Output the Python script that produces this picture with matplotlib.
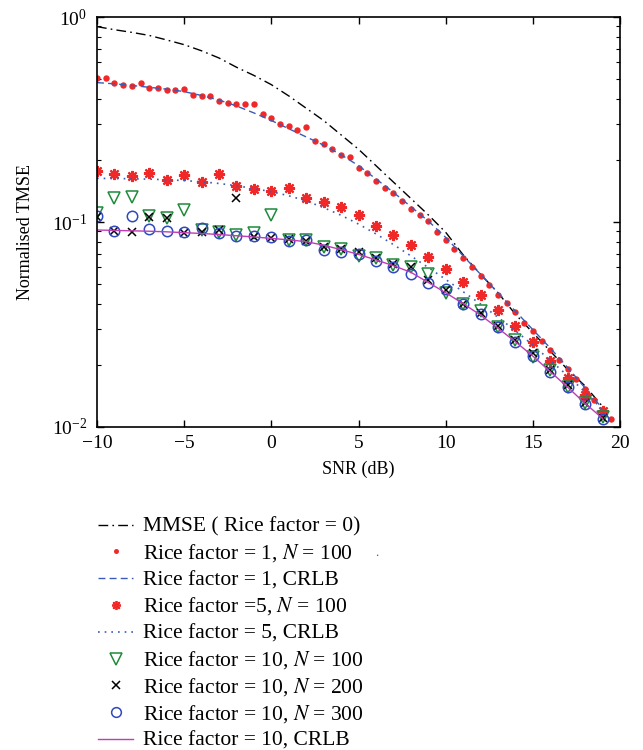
import numpy as np
import matplotlib
matplotlib.use("Agg")
import matplotlib.pyplot as plt
from matplotlib.lines import Line2D
from matplotlib.ticker import LogLocator, NullFormatter, FixedLocator

plt.rcParams['font.family'] = ['Liberation Serif', 'DejaVu Serif']
plt.rcParams['mathtext.fontset'] = 'stix'

# ---------------- data (log10 of normalised TMSE) ----------------
snr_line = [-10, -9, -8, -7, -6, -5, -4, -3, -2, -1, 0, 1, 2, 3, 4, 5, 6, 7, 8, 9,
            10, 11, 12, 13, 14, 15, 16, 17, 18, 19]
snr_int = snr_line
snr_half = [-10, -9.5, -9, -8.5, -8, -7.5, -7, -6.5, -6, -5.5, -5, -4.5, -4, -3.5, -3,
            -2.5, -2, -1.5, -1, -0.5, 0, 0.5, 1, 1.5, 2, 2.5, 3, 3.5, 4, 4.5, 5, 5.5,
            6, 6.5, 7, 7.5, 8, 8.5, 9, 9.5, 10, 10.5, 11, 11.5, 12, 12.5, 13, 13.5,
            14, 14.5, 15, 15.5, 16, 16.5, 17, 17.5, 18, 18.5, 19, 19.5]

mmse_log = [-0.047, -0.062, -0.075, -0.090, -0.112, -0.135, -0.165, -0.200, -0.245, -0.285,
            -0.330, -0.385, -0.445, -0.505, -0.575, -0.645, -0.725, -0.805, -0.885, -0.965,
            -1.050, -1.160, -1.255, -1.345, -1.450, -1.540, -1.630, -1.720, -1.800, -1.900]

rice1_n100_log = [-0.298, -0.298, -0.320, -0.333, -0.338, -0.320, -0.345, -0.345, -0.356, -0.356,
                  -0.350, -0.380, -0.387, -0.387, -0.408, -0.421, -0.426, -0.426, -0.426, -0.475,
                  -0.491, -0.520, -0.532, -0.550, -0.538, -0.603, -0.620, -0.644, -0.672, -0.684,
                  -0.738, -0.762, -0.800, -0.833, -0.860, -0.897, -0.938, -0.965, -0.995, -1.048,
                  -1.088, -1.132, -1.174, -1.221, -1.263, -1.307, -1.356, -1.393, -1.440, -1.494,
                  -1.530, -1.580, -1.624, -1.673, -1.717, -1.767, -1.816, -1.868, -1.917, -1.962]

rice1_crlb_log = [-0.320, -0.326, -0.334, -0.343, -0.352, -0.364, -0.383, -0.405, -0.434, -0.468,
                  -0.505, -0.545, -0.585, -0.625, -0.672, -0.725, -0.790, -0.855, -0.925, -0.995,
                  -1.075, -1.165, -1.255, -1.345, -1.435, -1.525, -1.615, -1.710, -1.810, -1.910]

rice5_n100_log = [-0.750, -0.766, -0.776, -0.763, -0.795, -0.772, -0.803, -0.766, -0.824, -0.839,
                  -0.847, -0.836, -0.881, -0.901, -0.928, -0.966, -1.020, -1.063, -1.114, -1.172,
                  -1.230, -1.294, -1.356, -1.429, -1.506, -1.587, -1.678, -1.762, -1.844, -1.922]

rice5_crlb_log = [-0.787, -0.788, -0.789, -0.791, -0.794, -0.798, -0.804, -0.812, -0.823, -0.837,
                  -0.852, -0.872, -0.897, -0.930, -0.967, -1.010, -1.058, -1.110, -1.165, -1.222,
                  -1.280, -1.340, -1.400, -1.465, -1.530, -1.600, -1.675, -1.750, -1.830, -1.915]

rice10_n100_log = [-0.958, -0.884, -0.877, -0.969, -0.982, -0.941, -1.039, -1.047, -1.063, -1.055,
                   -0.966, -1.088, -1.088, -1.124, -1.132, -1.166, -1.174, -1.210, -1.221, -1.252,
                   -1.345, -1.400, -1.433, -1.511, -1.576, -1.657, -1.722, -1.803, -1.881, -1.953]

rice10_n200_log = [-0.974, -1.044, -1.047, -0.974, -0.982, -1.055, -1.047, -1.039, -0.881, -1.075,
                   -1.080, -1.084, -1.091, -1.120, -1.132, -1.145, -1.177, -1.205, -1.218, -1.284,
                   -1.332, -1.400, -1.445, -1.505, -1.576, -1.641, -1.722, -1.795, -1.881, -1.958]

rice10_n300_log = [-0.969, -1.044, -0.969, -1.034, -1.044, -1.047, -1.031, -1.052, -1.068, -1.068,
                   -1.075, -1.091, -1.088, -1.137, -1.145, -1.156, -1.189, -1.221, -1.252, -1.299,
                   -1.328, -1.400, -1.449, -1.511, -1.584, -1.654, -1.730, -1.806, -1.888, -1.962]

rice10_crlb_log = [-1.039, -1.041, -1.043, -1.045, -1.048, -1.052, -1.056, -1.061, -1.067, -1.073,
                   -1.080, -1.087, -1.096, -1.113, -1.135, -1.158, -1.185, -1.213, -1.245, -1.295,
                   -1.345, -1.398, -1.454, -1.518, -1.584, -1.654, -1.730, -1.806, -1.885, -1.958]

labels = ["MMSE ( Rice factor = 0)",
          "Rice factor = 1, $N$ = 100",
          "Rice factor = 1, CRLB",
          "Rice factor =5, $N$ = 100",
          "Rice factor = 5, CRLB",
          "Rice factor = 10, $N$ = 100",
          "Rice factor = 10, $N$ = 200",
          "Rice factor = 10, $N$ = 300",
          "Rice factor = 10, CRLB"]

x_ticks = [-10, -5, 0, 5, 10, 15, 20]
x_ticklabels = ['\u221210', '\u22125', '0', '5', '10', '15', '20']


def v(a):
    return np.power(10.0, np.asarray(a))


W, H = 643, 750
fig = plt.figure(figsize=(W / 100, H / 100), dpi=100)
ax = fig.add_axes([97 / W, 1 - 427 / H, 523 / W, 410 / H])

red = '#f02828'
blue = '#3a5cb8'
green = '#1e8a3c'
circ = '#3048c0'
mag = '#c03cb4'

styles = [
    dict(color='black', lw=1.0, linestyle=(0, (7, 3, 1.2, 3))),
    dict(linestyle='none', marker='o', ms=4.6, color=red, mec='none'),
    dict(color=blue, lw=1.0, linestyle=(0, (5, 3))),
    dict(linestyle='none', marker=(8, 2, 0), ms=8, mew=1.6, color=red, mec=red),
    dict(color=blue, lw=1.2, linestyle=(0, (1, 3))),
    dict(linestyle='none', marker='v', ms=9, mfc='none', mec=green, mew=1.1),
    dict(linestyle='none', marker='x', ms=6, mec='black', mew=1.1),
    dict(linestyle='none', marker='o', ms=7.5, mfc='none', mec=circ, mew=1.1),
    dict(color=mag, lw=1.0),
]

series = [(snr_line, mmse_log), (snr_half, rice1_n100_log), (snr_line, rice1_crlb_log),
          (snr_int, rice5_n100_log), (snr_line, rice5_crlb_log), (snr_int, rice10_n100_log),
          (snr_int, rice10_n200_log), (snr_int, rice10_n300_log), (snr_line, rice10_crlb_log)]

for (xs, ys), st in zip(series, styles):
    ax.plot(xs, v(ys), **st)

ax.set_yscale('log')
ax.set_xlim(-10, 20)
ax.set_ylim(1e-2, 1)
ax.xaxis.set_major_locator(FixedLocator(x_ticks))
ax.set_xticklabels(x_ticklabels)
ax.yaxis.set_major_locator(LogLocator(base=10, numticks=5))
ax.yaxis.set_minor_locator(LogLocator(base=10, subs=np.arange(2, 10), numticks=20))
ax.yaxis.set_minor_formatter(NullFormatter())
ax.tick_params(which='both', direction='in', top=True, right=True, labelsize=14)
ax.tick_params(axis='y', pad=7)
ax.tick_params(axis='x', pad=6)
ax.tick_params(which='major', length=5, width=1.0)
ax.tick_params(which='minor', length=3, width=0.8)
for s in ax.spines.values():
    s.set_linewidth(1.2)

ax.set_xlabel('SNR (dB)', fontsize=13, labelpad=6)
ax.set_ylabel('Normalised TMSE', fontsize=13)
ax.yaxis.set_label_coords(-0.12, 0.476)

# ---------------- legend (drawn below the axes) ----------------
row0, dy = 524.5, 26.8
hx0, hx1, tx = 98, 133, 143
leg_styles = [dict(s) for s in styles]
leg_styles[1]['ms'] = 3.6
leg_styles[3]['ms'] = 6.5
leg_styles[3]['mew'] = 1.3
leg_styles[5]['ms'] = 8
leg_styles[6]['ms'] = 5.5
leg_styles[7]['ms'] = 7
for i, (lab, st) in enumerate(zip(labels, leg_styles)):
    yc = row0 + dy * i
    yf = 1 - yc / H
    if st.get('linestyle') == 'none':
        xs = [(hx0 + hx1) / 2 / W]
        ys = [yf]
    else:
        xs = [hx0 / W, hx1 / W]
        ys = [yf, yf]
    fig.add_artist(Line2D(xs, ys, transform=fig.transFigure, **st))
    fig.text(tx / W, 1 - (yc + 7) / H, lab, fontsize=15.5, ha='left', va='baseline')

fig.text(377 / W, 1 - 553 / H, '.', fontsize=9, ha='center', va='center', color='#555555')

fig.savefig('out.png', dpi=100)
